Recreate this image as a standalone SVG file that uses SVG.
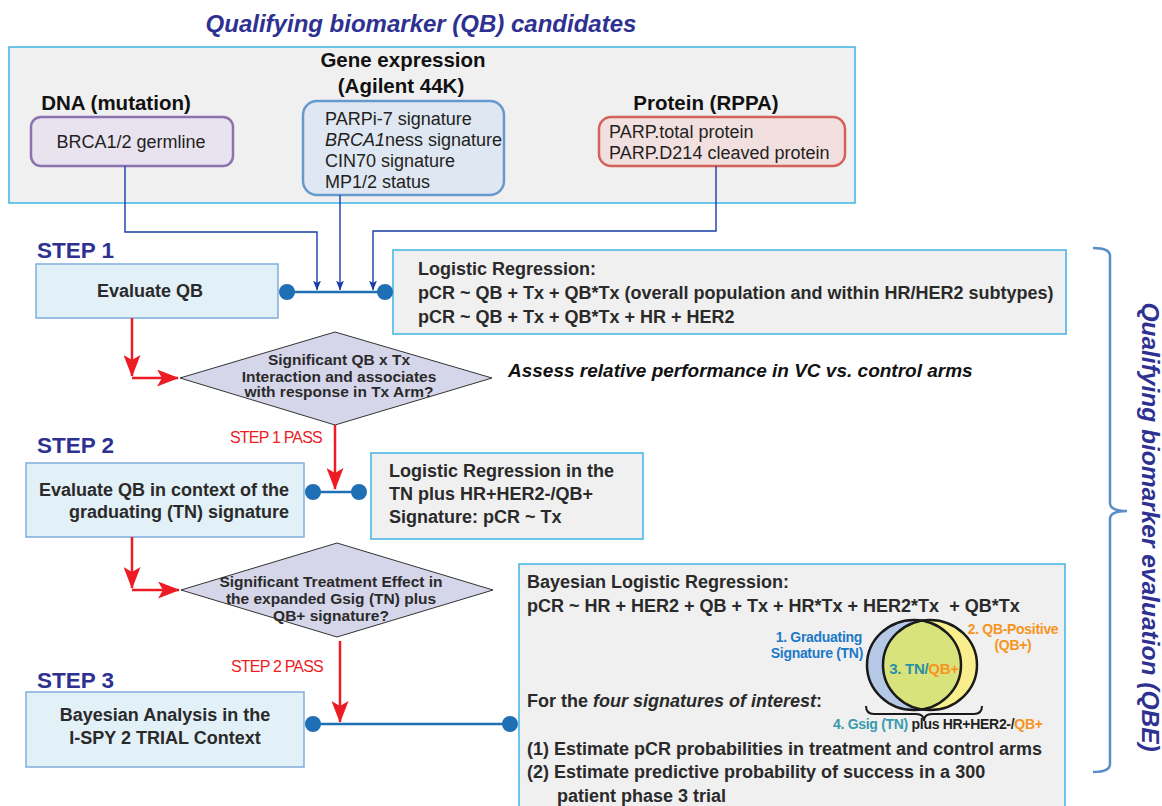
<svg xmlns="http://www.w3.org/2000/svg" width="1162" height="806" viewBox="0 0 1162 806">
<style>
text{font-family:"Liberation Sans",Arial,Helvetica,sans-serif;fill:#231f20}
.b{font-weight:bold}
.bi{font-weight:bold;font-style:italic}
.hd{font-size:20.5px;font-weight:bold;fill:#111}
.reg{font-size:18px}
.body{font-size:18px;font-weight:bold;fill:#2a2a2a}
.step{font-size:22.5px;font-weight:bold;fill:#2e3192}
.dtext{font-size:15.5px;font-weight:bold;fill:#2a2a2a}
.pass{font-size:16px;fill:#ed1c24;letter-spacing:-0.8px}
.vl{font-size:14px;font-weight:bold;letter-spacing:-0.3px}
.qbx{fill:#f0f0f0;stroke:#3fb4e5;stroke-width:1.5}
.sbx{fill:#e2f0f7;stroke:#7eaedb;stroke-width:1.5}
.dia{fill:#d6d6ea;stroke:#333;stroke-width:1}
.red{fill:none;stroke:#ed1c24;stroke-width:2.5}
.blu{fill:none;stroke:#1a3ca8;stroke-width:1.4}
.lnk{fill:none;stroke:#1f6fb5;stroke-width:2.5}
.dot{fill:#1f6fb5}
</style>
<defs>
<marker id="ra" viewBox="0 0 22 17" refX="21" refY="8.5" markerWidth="22" markerHeight="17" markerUnits="userSpaceOnUse" orient="auto">
<path d="M0,0 L22,8.5 L0,17 L5,8.5 Z" fill="#ed1c24"/>
</marker>
<marker id="ba" viewBox="0 0 10 8" refX="9.5" refY="4" markerWidth="10" markerHeight="8" markerUnits="userSpaceOnUse" orient="auto">
<path d="M0,0 L10,4 L0,8 L2.5,4 Z" fill="#1a3ca8"/>
</marker>
<clipPath id="clipR"><ellipse cx="930" cy="665" rx="47" ry="45"/></clipPath>
</defs>

<text class="bi" x="421" y="32" text-anchor="middle" style="font-size:24px;fill:#2e3192">Qualifying biomarker (QB) candidates</text>

<g id="qb-candidates">
<rect class="qbx" x="9" y="47" width="846" height="156"/>
</g>

<g id="dna">
<text class="hd" x="116" y="110" text-anchor="middle">DNA (mutation)</text>
<rect x="31" y="117" width="202" height="49" rx="10" fill="#e9e3ef" stroke="#8c72b0" stroke-width="2.5"/>
<text class="reg" x="131" y="148" text-anchor="middle">BRCA1/2 germline</text>
</g>

<g id="gene-expression">
<text class="hd" x="403" y="67" text-anchor="middle">Gene expression</text>
<text class="hd" x="401" y="93" text-anchor="middle">(Agilent 44K)</text>
<rect x="303" y="101" width="201" height="94" rx="14" fill="#dfe7f2" stroke="#6699cc" stroke-width="2.5"/>
<text class="reg" x="325" y="125">PARPi-7 signature</text>
<text class="reg" x="325" y="146"><tspan font-style="italic">BRCA1</tspan>ness signature</text>
<text class="reg" x="325" y="167">CIN70 signature</text>
<text class="reg" x="325" y="188">MP1/2 status</text>
</g>

<g id="protein">
<text class="hd" x="706" y="110" text-anchor="middle">Protein (RPPA)</text>
<rect x="599" y="117" width="246" height="49" rx="12" fill="#f2e0e0" stroke="#d4625a" stroke-width="2.5"/>
<text class="reg" x="609" y="138">PARP.total protein</text>
<text class="reg" x="609" y="159">PARP.D214 cleaved protein</text>
</g>

<g id="step1">
<text class="step" x="37" y="258">STEP 1</text>
<rect class="sbx" x="36" y="264" width="242" height="54"/>
<text class="body" x="150" y="297" text-anchor="middle">Evaluate QB</text>
</g>

<g id="logit1">
<rect class="qbx" x="393" y="250" width="673" height="84"/>
<text class="body" x="418" y="275">Logistic Regression:</text>
<text class="body" x="418" y="299">pCR ~ QB + Tx + QB*Tx (overall population and within HR/HER2 subtypes)</text>
<text class="body" x="418" y="323">pCR ~ QB + Tx + QB*Tx + HR + HER2</text>
</g>

<g id="decision1">
<polygon class="dia" points="180,378 335,332 492,378 335,425"/>
<text class="dtext" x="339" y="365" text-anchor="middle">Significant QB x Tx</text>
<text class="dtext" x="339" y="382" text-anchor="middle">Interaction and associates</text>
<text class="dtext" x="339" y="397" text-anchor="middle">with response in Tx Arm?</text>
</g>

<g id="assess">
<text class="bi" x="508" y="377" style="font-size:19px;fill:#111">Assess relative performance in VC vs. control arms</text>
</g>

<g id="step2">
<text class="step" x="37" y="453">STEP 2</text>
<rect class="sbx" x="26" y="463" width="278" height="74"/>
<text class="body" x="289" y="496" text-anchor="end">Evaluate QB in context of the</text>
<text class="body" x="289" y="518" text-anchor="end">graduating (TN) signature</text>
</g>

<g id="logit2">
<rect class="qbx" x="371" y="453" width="272" height="86"/>
<text class="body" x="389" y="477">Logistic Regression in the</text>
<text class="body" x="389" y="500">TN plus HR+HER2-/QB+</text>
<text class="body" x="389" y="523">Signature: pCR ~ Tx</text>
</g>

<g id="decision2">
<polygon class="dia" points="181,590 337,543 493,590 337,637"/>
<text class="dtext" x="331" y="587" text-anchor="middle">Significant Treatment Effect in</text>
<text class="dtext" x="331" y="604" text-anchor="middle">the expanded Gsig (TN) plus</text>
<text class="dtext" x="331" y="621" text-anchor="middle">QB+ signature?</text>
</g>

<g id="step3">
<text class="step" x="37" y="688">STEP 3</text>
<rect class="sbx" x="26" y="692" width="278" height="75"/>
<text class="body" x="165" y="721" text-anchor="middle">Bayesian Analysis in the</text>
<text class="body" x="165" y="744" text-anchor="middle">I-SPY 2 TRIAL Context</text>
</g>

<g id="bayes">
<rect class="qbx" x="519" y="564" width="546" height="260"/>
<text class="body" x="527" y="588">Bayesian Logistic Regression:</text>
<text class="body" x="527" y="612" xml:space="preserve">pCR ~ HR + HER2 + QB + Tx + HR*Tx + HER2*Tx  + QB*Tx</text>
<text class="body" x="527" y="707">For the <tspan font-style="italic">four signatures of interest</tspan>:</text>
<text class="body" x="527" y="755">(1) Estimate pCR probabilities in treatment and control arms</text>
<text class="body" x="527" y="778">(2) Estimate predictive probability of success in a 300</text>
<text class="body" x="557" y="802">patient phase 3 trial</text>
</g>

<g id="venn">
<ellipse cx="914" cy="665" rx="47" ry="45" fill="#b5c8e6"/>
<ellipse cx="930" cy="665" rx="47" ry="45" fill="#f8ee8c"/>
<ellipse cx="914" cy="665" rx="47" ry="45" fill="#d9e37c" clip-path="url(#clipR)"/>
<ellipse cx="914" cy="665" rx="47" ry="45" fill="none" stroke="#1a1a1a" stroke-width="2.5"/>
<ellipse cx="930" cy="665" rx="47" ry="45" fill="none" stroke="#1a1a1a" stroke-width="2.5"/>
<path d="M866,706 Q866,714 874,714 L916,714 Q924,714 924,721 Q924,714 932,714 L974,714 Q982,714 982,706" fill="none" stroke="#1a1a1a" stroke-width="2"/>
<text class="vl" x="862" y="642" text-anchor="end" style="fill:#2079c7">1. Graduating</text>
<text class="vl" x="863" y="658" text-anchor="end" style="fill:#2079c7">Signature (TN)</text>
<text class="vl" x="1013" y="634" text-anchor="middle" style="fill:#f7941d">2. QB-Positive</text>
<text class="vl" x="1013" y="650" text-anchor="middle" style="fill:#f7941d">(QB+)</text>
<text class="vl" x="924" y="674" text-anchor="middle" style="font-size:15px;fill:#2a8fa8">3. TN/<tspan style="fill:#f7941d">QB+</tspan></text>
<text class="vl" x="833" y="729" style="fill:#3a9aaf">4. Gsig (TN) <tspan style="fill:#231f20">plus HR+HER2-/</tspan><tspan style="fill:#f7941d">QB+</tspan></text>
</g>

<g id="qbe-bracket">
<path d="M1093,248 Q1110,248 1110,256 L1110,503 Q1110,511 1127,511 Q1110,511 1110,519 L1110,764 Q1110,772 1093,772" fill="none" stroke="#5a8ec8" stroke-width="2.5"/>
<text class="bi" transform="translate(1142,527) rotate(90)" text-anchor="middle" style="font-size:24.5px;fill:#2e3192">Qualifying biomarker evaluation (QBE)</text>
</g>

<g id="connectors">
<path class="blu" d="M125,166 V232 H317 V290" marker-end="url(#ba)"/>
<path class="blu" d="M340,195 V290" marker-end="url(#ba)"/>
<path class="blu" d="M716,166 V231 H373 V290" marker-end="url(#ba)"/>
<line class="lnk" x1="287" y1="292" x2="385" y2="292"/>
<circle class="dot" cx="287" cy="292" r="8"/>
<circle class="dot" cx="385" cy="292" r="8"/>

<path class="red" d="M132,318 V376" marker-end="url(#ra)"/>
<path class="red" d="M132,378 H178" marker-end="url(#ra)"/>
<path class="red" d="M335,425 V489" marker-end="url(#ra)"/>
<text class="pass" x="230" y="443">STEP 1 PASS</text>
<line class="lnk" x1="313" y1="492" x2="359" y2="492"/>
<circle class="dot" cx="313" cy="492" r="8"/>
<circle class="dot" cx="359" cy="492" r="8"/>

<path class="red" d="M132,537 V588" marker-end="url(#ra)"/>
<path class="red" d="M132,590 H179" marker-end="url(#ra)"/>
<path class="red" d="M340,641 V722" marker-end="url(#ra)"/>
<text class="pass" x="231" y="672">STEP 2 PASS</text>
<line class="lnk" x1="313" y1="724" x2="510" y2="724"/>
<circle class="dot" cx="313" cy="724" r="8"/>
<circle class="dot" cx="510" cy="724" r="8"/>
</g>
</svg>
